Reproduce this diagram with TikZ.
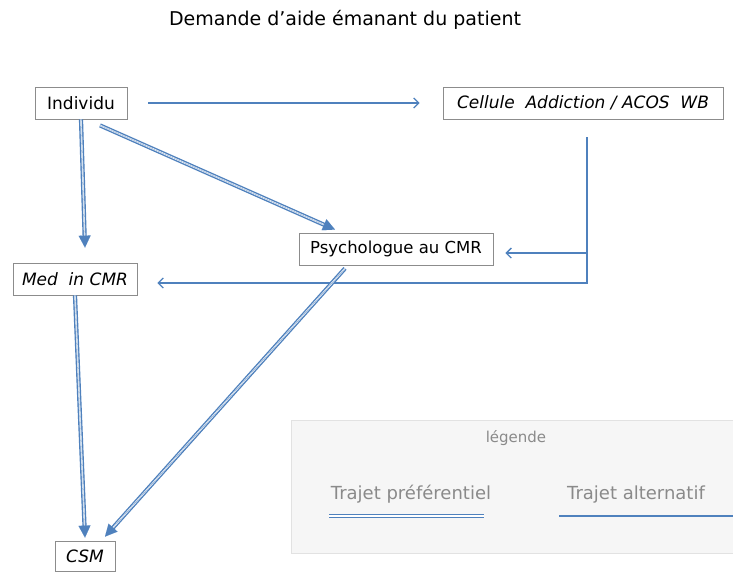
\documentclass[tikz,border=0pt]{standalone}
\usepackage{fontspec}
\setmainfont{DejaVu Sans}
\usetikzlibrary{arrows.meta}
\definecolor{mblue}{HTML}{4F81BD}
\definecolor{boxgray}{HTML}{8C8C8C}
\definecolor{leggray}{HTML}{8A8A8A}
\definecolor{legfill}{HTML}{F6F6F6}
\definecolor{legline}{HTML}{E2E2E2}
\newcommand\prefedge[2]{%
  \draw[pref, shorten >=10pt] #1 -- #2;
  \draw[preftip] #1 -- #2;}
\begin{document}
\begin{tikzpicture}[x=1pt,y=-1pt,
  box/.style={draw=boxgray, line width=0.8pt, fill=white, inner sep=0pt,
    minimum height=32pt, font=\fontsize{17}{20}\selectfont},
  pref/.style={draw=mblue, double=white, line width=1.4pt, double distance=1.4pt},
  preftip/.style={draw=mblue, fill=mblue, line width=0.01pt,
    -{Triangle[length=12pt,width=12pt]}},
  alt/.style={draw=mblue, line width=1.3pt, -{Straight Barb[length=5pt,width=10pt]}},
  legtext/.style={text=leggray, font=\fontsize{18}{21}\selectfont, inner sep=0pt, anchor=base}]
\useasboundingbox (0,0) rectangle (733,571);
% title
\node[font=\fontsize{19}{22}\selectfont, inner sep=0pt] (title) at (345,20) {Demande d'aide émanant du patient};
% boxes
\node[box, minimum width=92pt] (indiv) at (81,103) {Individu};
\node[box, minimum width=280pt, font=\fontsize{17}{20}\selectfont\itshape] (cell) at (583,103) {Cellule\ \ Addiction / ACOS\ \ WB};
\node[box, minimum width=194pt, font=\fontsize{16.5}{20}\selectfont] (psy) at (396,249) {Psychologue au CMR};
\node[box, minimum width=124pt, font=\fontsize{17}{20}\selectfont\itshape] (med) at (75,279) {Med\ \ in CMR};
\node[box, minimum width=60pt, minimum height=30pt, font=\fontsize{17}{20}\selectfont\itshape] (csm) at (85,556) {CSM};
% alternative routes
\draw[alt, shorten <=21pt, shorten >=23pt] (indiv.east) -- (cell.west);
\coordinate (jp) at (587,253);
\draw[alt, shorten >=20pt] ([xshift=4pt,yshift=-18pt]cell.south) |- ([yshift=-4pt]med.east);
\draw[alt, shorten >=12pt] (jp) -- ([yshift=-4pt]psy.east);
% preferred routes
\prefedge{(indiv.south)}{([xshift=10pt,yshift=15pt]med.north)}
\prefedge{([xshift=19pt,yshift=-6pt]indiv.south)}{([xshift=-61pt,yshift=3pt]psy.north)}
\prefedge{(med.south)}{([yshift=3pt]csm.north)}
\prefedge{([xshift=-51pt,yshift=-3pt]psy.south)}{([xshift=20pt,yshift=4pt]csm.north)}
% legend
\node[draw=legline, fill=legfill, line width=0.8pt, minimum width=450pt, minimum height=133pt, inner sep=0pt] (legend) at (516,486.5) {};
\node[legtext, font=\fontsize{15}{18}\selectfont] (legt) at (516,442) {légende};
\node[legtext] (legpref) at (411,499) {Trajet préférentiel};
\node[legtext] (legalt) at (636,499) {Trajet alternatif};
\coordinate (lp1) at (329,516); \coordinate (lp2) at (484,516);
\coordinate (la1) at (559,516); \coordinate (la2) at (741,516);
\draw[pref] (lp1) -- (lp2);
\draw[draw=mblue, line width=1.3pt] (la1) -- (la2);
\end{tikzpicture}
\end{document}
